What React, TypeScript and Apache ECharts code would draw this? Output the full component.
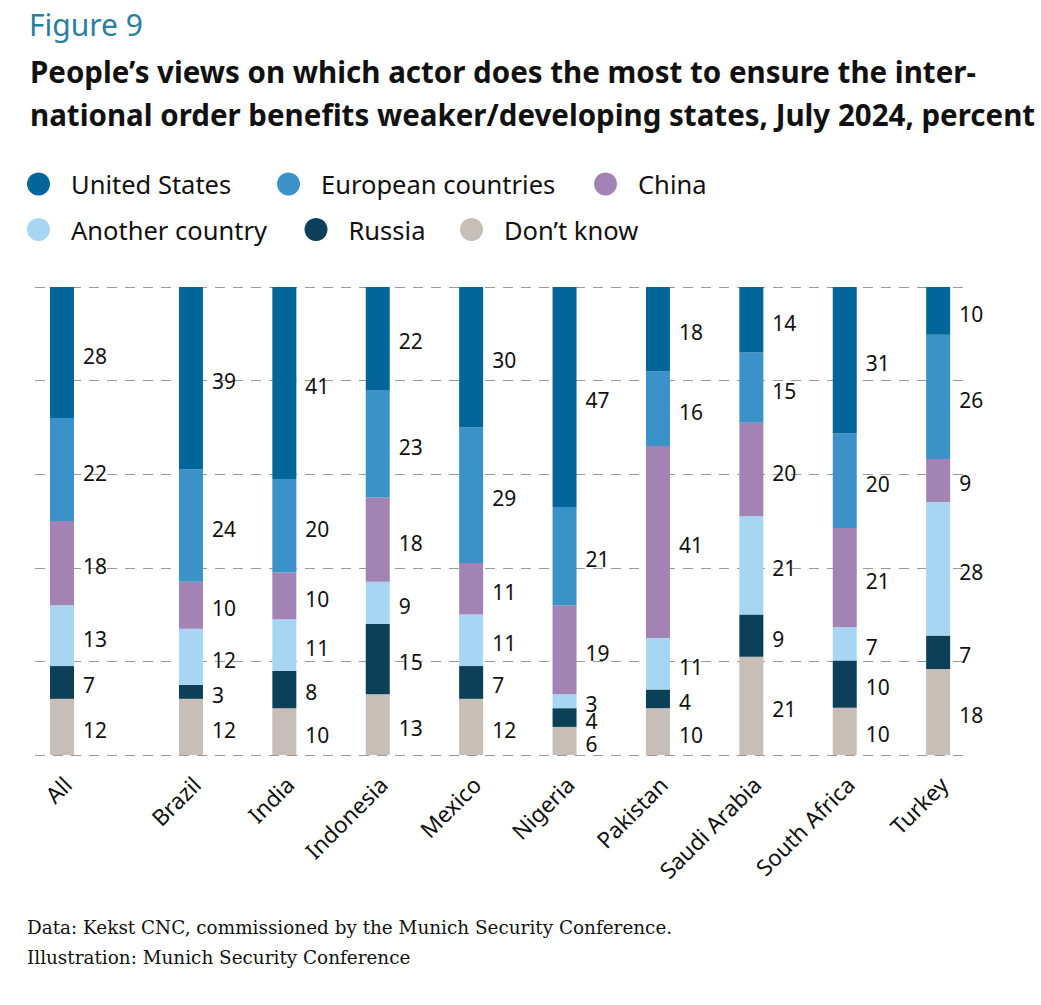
import React, { useEffect, useRef } from "react";
import * as echarts from "echarts";

const categories = ["All", "Brazil", "India", "Indonesia", "Mexico", "Nigeria", "Pakistan", "Saudi Arabia", "South Africa", "Turkey"];
const unitedStates = [28, 39, 41, 22, 30, 47, 18, 14, 31, 10];
const europeanCountries = [22, 24, 20, 23, 29, 21, 16, 15, 20, 26];
const china = [18, 10, 10, 18, 11, 19, 41, 20, 21, 9];
const anotherCountry = [13, 12, 11, 9, 11, 3, 11, 21, 7, 28];
const russia = [7, 3, 8, 15, 7, 4, 4, 9, 10, 7];
const dontKnow = [12, 12, 10, 13, 12, 6, 10, 21, 10, 18];
const yTicks = [0, 20, 40, 60, 80, 100];

const SANS = "'Noto Sans', 'Open Sans', sans-serif";
const SERIF = "'DejaVu Serif', 'Liberation Serif', serif";

const seriesDefs = [
  { name: "Don’t know", values: dontKnow, color: "#c6beb7" },
  { name: "Russia", values: russia, color: "#0b4058" },
  { name: "Another country", values: anotherCountry, color: "#a6d6f1" },
  { name: "China", values: china, color: "#a383b3" },
  { name: "European countries", values: europeanCountries, color: "#3a92c8" },
  { name: "United States", values: unitedStates, color: "#03669a" },
];

// legend layout: [name, icon centre x, icon centre y]
const legendSlots: [string, number, number][] = [
  ["United States", 38.5, 182.5],
  ["European countries", 288.5, 182.5],
  ["China", 605.5, 182.5],
  ["Another country", 38.5, 228],
  ["Russia", 316, 228],
  ["Don’t know", 471.5, 228],
];

const totals = categories.map((_, i) => seriesDefs.reduce((s, d) => s + d.values[i], 0));

export default function App() {
  const ref = useRef<HTMLDivElement>(null);
  useEffect(() => {
    document.body.style.margin = "0";
    const chart = echarts.init(ref.current!, null, { renderer: "svg" });

    const xLabel = {
      rotate: 45,
      interval: 0,
      margin: 20,
      fontSize: 22.5,
      lineHeight: 16,
      fontFamily: SANS,
      color: "#111",
      verticalAlign: "top",
    };

    const makeSeries = (gridIdx: number, from: number, to: number, stack: string) =>
      seriesDefs.map((d) => ({
        name: d.name,
        type: "bar",
        stack,
        xAxisIndex: gridIdx,
        yAxisIndex: gridIdx,
        barWidth: 24,
        itemStyle: { color: d.color },
        data: d.values.slice(from, to).map((v, j) => (v / totals[from + j]) * 100),
        label: {
          show: true,
          position: "right",
          distance: 9,
          fontSize: 21,
          lineHeight: 17,
          fontFamily: SANS,
          color: "#111",
          offset: [0, 3],
          formatter: (p: any) => String(d.values[from + p.dataIndex]),
        },
      }));

    const legendIcon = 23;
    const legends = legendSlots.map(([name, cx, cy]) => ({
      data: [name],
      left: cx - legendIcon / 2,
      top: cy - legendIcon / 2,
      padding: 0,
      icon: "circle",
      itemWidth: legendIcon,
      itemHeight: legendIcon,
      selectedMode: false,
      textStyle: { fontFamily: SANS, fontSize: 25.5, lineHeight: legendIcon, color: "#111", padding: [0, 0, 3, 16] },
    }));

    chart.setOption({
      animation: false,
      title: [
        {
          text: "Figure 9",
          left: 24,
          top: 4,
          textStyle: { fontFamily: SANS, fontSize: 30, fontWeight: "normal", color: "#2a7fa0" },
        },
        {
          text: "People’s views on which actor does the most to ensure the inter-\nnational order benefits weaker/developing states, July 2024, percent",
          left: 25,
          top: 45,
          textStyle: { fontFamily: SANS, fontSize: 29.5, fontWeight: "bold", color: "#111", lineHeight: 43 },
        },
        {
          text: "Data: Kekst CNC, commissioned by the Munich Security Conference.\nIllustration: Munich Security Conference",
          left: 22,
          top: 907,
          textStyle: { fontFamily: SERIF, fontSize: 18.4, fontWeight: "normal", color: "#111", lineHeight: 30 },
        },
      ],
      legend: legends,
      grid: [
        { left: 35, width: 930, top: 287, height: 468 },
        { left: 32, width: 60, top: 287, height: 468 },
        { left: 144.25, width: 840.6, top: 287, height: 468 },
      ],
      xAxis: [
        { type: "value", gridIndex: 0, min: 0, max: 1, show: false },
        {
          type: "category",
          gridIndex: 1,
          data: categories.slice(0, 1),
          axisLine: { show: false },
          axisTick: { show: false },
          axisLabel: xLabel,
        },
        {
          type: "category",
          gridIndex: 2,
          data: categories.slice(1),
          axisLine: { show: false },
          axisTick: { show: false },
          axisLabel: xLabel,
        },
      ],
      yAxis: [
        {
          type: "value",
          gridIndex: 0,
          min: yTicks[0],
          max: yTicks[yTicks.length - 1],
          interval: 20,
          axisLine: { show: false },
          axisTick: { show: false },
          axisLabel: { show: false },
          splitLine: { show: true, lineStyle: { color: "#999", width: 1.2, type: [10, 8] } },
        },
        { type: "value", gridIndex: 1, min: 0, max: 100, show: false, splitLine: { show: false } },
        { type: "value", gridIndex: 2, min: 0, max: 100, show: false, splitLine: { show: false } },
      ],
      series: [...makeSeries(1, 0, 1, "all"), ...makeSeries(2, 1, categories.length, "countries")],
    });
    return () => chart.dispose();
  }, []);
  return <div ref={ref} style={{ width: 1041, height: 1005 }} />;
}
